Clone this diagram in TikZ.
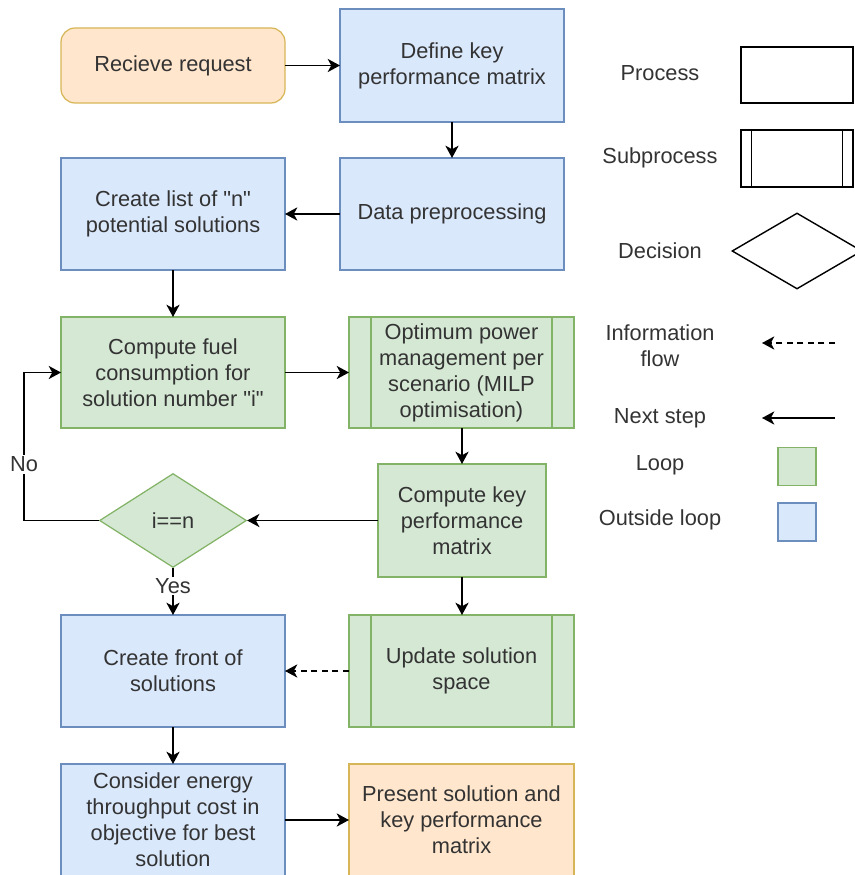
\documentclass[tikz,border=0pt]{standalone}
\usepackage{fontspec}
\setmainfont{Liberation Sans}
\usepackage{tikz}
\usetikzlibrary{positioning, arrows.meta, shapes.geometric}
\definecolor{fcblue}{HTML}{DAE8FC}
\definecolor{fcbluedraw}{HTML}{6C8EBF}
\definecolor{fcgreen}{HTML}{D5E8D4}
\definecolor{fcgreendraw}{HTML}{82B366}
\definecolor{fcorange}{HTML}{FFE6CC}
\definecolor{fcorangedraw}{HTML}{D6B656}
\definecolor{fctext}{HTML}{333333}

\begin{document}
\begin{tikzpicture}[
  font=\fontsize{12.4}{14.8}\selectfont,
  box/.style={draw, line width=0.7pt, inner sep=0pt, outer sep=0pt,
              minimum width=4.48cm, minimum height=2.24cm,
              align=center, text=fctext},
  outbox/.style={box, fill=fcblue, draw=fcbluedraw},
  loopbox/.style={box, fill=fcgreen, draw=fcgreendraw},
  endbox/.style={box, fill=fcorange, draw=fcorangedraw},
  decide/.style={diamond, draw=fcgreendraw, fill=fcgreen, line width=0.7pt,
                 inner sep=0pt, minimum width=2.94cm, minimum height=1.88cm, text=fctext},
  arr/.style={-{Stealth[length=7pt, width=7.5pt, inset=2pt]}, line width=0.9pt},
  info/.style={arr, dash pattern=on 3.5pt off 2.5pt},
  lbl/.style={fill=white, inner sep=1pt, text=fctext},
  legtxt/.style={align=center, text=fctext},
  legbox/.style={draw, line width=0.8pt, fill=white, minimum width=2.24cm, inner sep=0pt}
]
  \useasboundingbox (0,0) rectangle (17.08,-17.5);

  %% Left column
  \node[endbox, rounded corners=8pt, minimum height=1.5cm] (rec) at (3.46,-1.31) {Recieve request};
  \node[outbox]  (list)  at (3.46,-4.28)  {Create list of \textquotedbl n\textquotedbl\\potential solutions};
  \node[loopbox, minimum height=2.22cm] (fuel) at (3.46,-7.45) {Compute fuel\\consumption for\\solution number \textquotedbl i\textquotedbl};
  \node[decide]  (dec)   at (3.46,-10.41) {i==n};
  \node[outbox]  (front) at (3.46,-13.42) {Create front of\\solutions};
  \node[outbox]  (cons)  at (3.46,-16.4)  {Consider energy\\throughput cost in\\objective for best\\solution};
  %% Right column
  \node[outbox, minimum height=2.26cm] (kpm) at (9.04,-1.31) {Define key\\performance matrix};
  \node[outbox]  (prep)  at (9.04,-4.28)  {Data preprocessing};
  \node[loopbox, minimum width=4.5cm, minimum height=2.22cm] (opt) at (9.23,-7.45) {Optimum power\\management per\\scenario (MILP\\optimisation)};
  \node[loopbox, minimum width=3.36cm, minimum height=2.26cm] (ckpm) at (9.24,-10.41) {Compute key\\performance\\matrix};
  \node[loopbox, minimum width=4.5cm] (upd) at (9.23,-13.42) {Update solution\\space};
  \node[endbox, minimum width=4.5cm] (pres) at (9.23,-16.4) {Present solution and\\key performance\\matrix};

  %% Subprocess side bars
  \foreach \n in {opt, upd}{
    \draw[fcgreendraw, line width=0.7pt] ([xshift=0.44cm]\n.north west) -- ([xshift=0.44cm]\n.south west);
    \draw[fcgreendraw, line width=0.7pt] ([xshift=-0.44cm]\n.north east) -- ([xshift=-0.44cm]\n.south east);
  }

  %% Next step arrows
  \draw[arr] (rec)  -- (kpm);
  \draw[arr] (kpm)  -- (prep);
  \draw[arr] (prep) -- (list);
  \draw[arr] (list) -- (fuel);
  \draw[arr] (fuel) -- (fuel -| opt.west);
  \draw[arr] (opt.south -| ckpm) -- (ckpm);
  \draw[arr] (ckpm) -- (dec);
  \draw[arr] (ckpm) -- (upd.north -| ckpm);
  \draw[arr] (dec)  -- node[lbl, pos=0.38]{Yes} (front);
  \draw[arr] (front) -- (cons);
  \draw[arr] (cons) -- (pres);
  %% Loop back
  \coordinate (back) at (0.48,-7.45);
  \draw[arr] (dec.west) -| node[lbl, pos=0.69]{No} (back) -- (fuel.west);
  %% Information flow
  \draw[info] (upd) -- (front);

  %% Legend
  \node[legtxt] (lproc) at (13.2,-1.46)  {Process};
  \node[legtxt] (lsub)  at (13.2,-3.16)  {Subprocess};
  \node[legtxt] (ldec)  at (13.2,-5.02)  {Decision};
  \node[legtxt] (linfo) at (13.2,-6.92)  {Information\\flow};
  \node[legtxt] (lnext) at (13.2,-8.36)  {Next step};
  \node[legtxt] (lloop) at (13.2,-9.3)   {Loop};
  \node[legtxt] (lout)  at (13.2,-10.4)  {Outside loop};

  \node[legbox, minimum height=1.12cm] (sproc) at (15.94,-1.5) {};
  \node[legbox, minimum height=1.14cm] (ssub)  at (15.94,-3.17) {};
  \draw[line width=0.8pt] ([xshift=0.22cm]ssub.north west) -- ([xshift=0.22cm]ssub.south west);
  \draw[line width=0.8pt] ([xshift=-0.22cm]ssub.north east) -- ([xshift=-0.22cm]ssub.south east);
  \node[diamond, draw, line width=0.8pt, fill=white, inner sep=0pt,
        minimum width=2.6cm, minimum height=1.52cm] (sdec) at (15.94,-5.02) {};
  \coordinate (infoa) at (16.7,-6.86);
  \coordinate (infob) at (15.24,-6.86);
  \draw[info] (infoa) -- (infob);
  \coordinate (nexta) at (16.7,-8.36);
  \coordinate (nextb) at (15.24,-8.36);
  \draw[arr] (nexta) -- (nextb);
  \node[draw=fcgreendraw, fill=fcgreen, line width=0.7pt, minimum size=0.76cm, inner sep=0pt] (sloop) at (15.94,-9.33) {};
  \node[draw=fcbluedraw, fill=fcblue, line width=0.7pt, minimum size=0.76cm, inner sep=0pt] (sout) at (15.94,-10.44) {};
\end{tikzpicture}
\end{document}
